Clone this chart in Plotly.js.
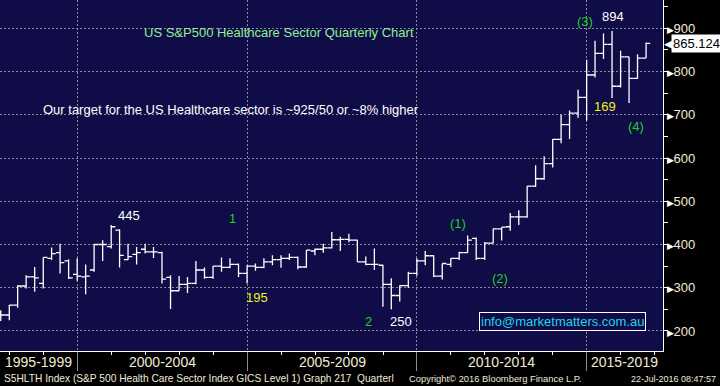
<!DOCTYPE html>
<html>
<head>
<meta charset="utf-8">
<script src="https://cdn.plot.ly/plotly-3.0.1.min.js"></script>
<style>
html,body{margin:0;padding:0;background:#000;}
#chart{width:720px;height:386px;}
</style>
</head>
<body>
<div id="chart"></div>
<script>
// Quarter-end dates (Q3 1997 .. Q3 2016)
const quarters = [
 "1997-09-30","1997-12-31",
 "1998-03-31","1998-06-30","1998-09-30","1998-12-31",
 "1999-03-31","1999-06-30","1999-09-30","1999-12-31",
 "2000-03-31","2000-06-30","2000-09-30","2000-12-31",
 "2001-03-31","2001-06-30","2001-09-30","2001-12-31",
 "2002-03-31","2002-06-30","2002-09-30","2002-12-31",
 "2003-03-31","2003-06-30","2003-09-30","2003-12-31",
 "2004-03-31","2004-06-30","2004-09-30","2004-12-31",
 "2005-03-31","2005-06-30","2005-09-30","2005-12-31",
 "2006-03-31","2006-06-30","2006-09-30","2006-12-31",
 "2007-03-31","2007-06-30","2007-09-30","2007-12-31",
 "2008-03-31","2008-06-30","2008-09-30","2008-12-31",
 "2009-03-31","2009-06-30","2009-09-30","2009-12-31",
 "2010-03-31","2010-06-30","2010-09-30","2010-12-31",
 "2011-03-31","2011-06-30","2011-09-30","2011-12-31",
 "2012-03-31","2012-06-30","2012-09-30","2012-12-31",
 "2013-03-31","2013-06-30","2013-09-30","2013-12-31",
 "2014-03-31","2014-06-30","2014-09-30","2014-12-31",
 "2015-03-31","2015-06-30","2015-09-30","2015-12-31",
 "2016-03-31","2016-06-30","2016-09-30"
];
const openVals = [
 237,237,
 260,304,325,310,
 368,381,362,331,
 325,341,400,395,
 433,365,377,389,
 383,381,324,293,
 308,310,341,324,
 350,347,354,333,
 350,347,360,365,
 368,370,348,385,
 389,392,411,412,
 410,360,354,352,
 308,282,305,333,
 362,374,327,354,
 368,381,414,368,
 403,436,441,464,
 464,535,552,587,
 643,677,704,740,
 792,842,863,766,
 834,784,831
];
const highVals = [
 248,260,
 306,329,348,370,
 393,402,366,368,
 354,400,410,445,
 435,402,394,402,
 394,383,329,327,
 325,362,347,350,
 370,368,356,352,
 356,368,375,375,
 379,372,387,391,
 402,429,418,425,
 411,372,391,353,
 322,306,337,368,
 385,375,356,368,
 383,421,416,406,
 437,440,473,479,
 535,583,604,644,
 700,710,758,827,
 871,888,894,848,
 834,840,867
];
const lowVals = [
 223,225,
 254,298,291,298,
 364,333,320,316,
 285,337,362,391,
 347,364,354,379,
 369,310,251,293,
 288,308,321,321,
 337,345,325,310,
 339,345,352,346,
 364,343,346,375,
 381,391,385,405,
 360,352,341,256,
 250,268,300,328,
 352,325,319,348,
 364,381,364,364,
 403,409,432,445,
 462,533,550,578,
 634,644,693,687,
 786,829,739,763,
 727,783,831
];
const closeVals = [
 237,260,
 304,325,323,370,
 379,358,323,327,
 327,400,400,441,
 375,372,381,383,
 383,320,293,308,
 310,341,324,350,
 347,354,333,350,
 347,360,365,368,
 370,348,387,389,
 392,411,412,410,
 360,354,354,308,
 282,305,333,362,
 374,327,356,368,
 381,410,368,403,
 436,440,464,464,
 535,552,587,643,
 677,704,740,792,
 842,863,766,834,
 784,831,865.124
];
const yTicks = [200,300,400,500,600,700,800,900];
const eraLabels = ["1995-1999","2000-2004","2005-2009","2010-2014","2015-2019"];
const eraBounds = ["2000-01-01","2005-01-01","2010-01-01","2015-01-01"];
const xRange = ["1997-09-22","2017-03-31"];
const yRange = [153.7, 965.4];

const W = 663, H = 351; // plot area in px
const px = x => x / W;
const py = y => 1 - y / H;
const mid = (a,b) => new Date((Date.parse(a)+Date.parse(b))/2).toISOString().slice(0,10);

const lastClose = closeVals[closeVals.length-1];

const trace = {
  type: 'ohlc',
  x: quarters,
  open: openVals, high: highVals, low: lowVals, close: closeVals,
  increasing: {line: {color: '#ffffff', width: 1.3}},
  decreasing: {line: {color: '#ffffff', width: 1.3}},
  tickwidth: 0.5,
  hoverinfo: 'skip',
  showlegend: false
};

const FONT = 'Liberation Sans, Arial, sans-serif';
const labelColor = '#f2ead6';
const green = '#1ed21e';
const yellow = '#f2f21e';

const bounds = [xRange[0]].concat(eraBounds, [xRange[1]]);
const eraAnn = eraLabels.map((t,i) => ({
  text: t, xref: 'x', yref: 'paper', x: mid(bounds[i], bounds[i+1]), y: py(362),
  xanchor: 'center', yanchor: 'middle', showarrow: false,
  font: {family: FONT, size: 14, color: labelColor}
}));

function txt(t, x, y, color, size, extra) {
  return Object.assign({text: t, xref: 'paper', yref: 'paper', x: px(x), y: py(y),
    xanchor: 'center', yanchor: 'middle', showarrow: false,
    font: {family: FONT, size: size || 13, color: color}}, extra || {});
}

const annotations = eraAnn.concat([
  txt('US S&P500 Healthcare Sector Quarterly Chart', 278.5, 32, '#8fef8f', 13),
  txt('Our target for the US Healthcare sector is ~925/50 or ~8% higher', 231, 109.5, '#ffffff', 13),
  txt('445', 129, 215, '#ffffff', 13),
  txt('1', 232.5, 218.5, green, 13),
  txt('195', 257, 297, yellow, 13),
  txt('2', 368.5, 321, green, 13),
  txt('250', 400.5, 321, '#ffffff', 13),
  txt('(1)', 457.5, 223, green, 13),
  txt('(2)', 500, 278.5, green, 13),
  txt('(3)', 584.5, 22, green, 13),
  txt('894', 613, 16, '#ffffff', 13),
  txt('169', 605, 106, yellow, 13),
  txt('(4)', 635.5, 126, green, 13),
  txt('info@marketmatters.com.au', 562.5, 321.5, '#22d4e6', 13,
      {bordercolor: '#ffffff', borderwidth: 1, borderpad: 1, bgcolor: '#0f0c47'}),
  // last price tag
  {text: '◀', xref: 'paper', yref: 'y', x: 1, y: lastClose, xanchor: 'left', yanchor: 'middle',
   xshift: -1, showarrow: false, font: {family: 'DejaVu Sans', size: 13, color: '#ffffff'}},
  {text: String(lastClose), xref: 'paper', yref: 'y', x: 1, y: lastClose, xanchor: 'left', yanchor: 'middle',
   xshift: 8, showarrow: false, bgcolor: '#ffffff', borderpad: 1,
   font: {family: FONT, size: 13, color: '#000000'}},
  // footer
  {text: 'S5HLTH Index (S&P 500 Health Care Sector Index GICS Level 1) Graph 217  Quarterl',
   xref: 'paper', yref: 'paper', x: px(2), y: py(378.5), xanchor: 'left', yanchor: 'middle', showarrow: false,
   font: {family: FONT, size: 10.2, color: labelColor}},
  {text: 'Copyright© 2016 Bloomberg Finance L.P.',
   xref: 'paper', yref: 'paper', x: px(407), y: py(378.5), xanchor: 'left', yanchor: 'middle', showarrow: false,
   font: {family: FONT, size: 9.4, color: labelColor}},
  {text: '22-Jul-2016 08:47:57',
   xref: 'paper', yref: 'paper', x: px(718), y: py(378.5), xanchor: 'right', yanchor: 'middle', showarrow: false,
   font: {family: FONT, size: 9, color: labelColor}}
]);

const layout = {
  width: 720, height: 386,
  margin: {l: 0, r: 57, t: 0, b: 35, pad: 0},
  paper_bgcolor: '#000000',
  plot_bgcolor: '#0f0c47',
  showlegend: false,
  dragmode: false,
  xaxis: {
    type: 'date', range: xRange, fixedrange: true,
    rangeslider: {visible: false},
    tickmode: 'array', tickvals: eraBounds, ticktext: eraBounds.map(() => ''),
    ticks: 'outside', ticklen: 19, tickcolor: '#8a8a96', tickwidth: 1,
    showgrid: true, gridcolor: '#8a8a96', gridwidth: 1, griddash: '2px,2px',
    showline: true, linecolor: '#ffffff', linewidth: 1, zeroline: false,
    minor: {dtick: 'M12', tick0: '1998-01-01', ticks: 'outside', ticklen: 3, tickcolor: '#ffffff', tickwidth: 1, showgrid: false}
  },
  yaxis: {
    side: 'right', range: yRange, fixedrange: true,
    tickmode: 'array', tickvals: yTicks,
    ticktext: yTicks.map(v => '<span style="font-size:9px;color:#ffffff">▶</span>' + v),
    ticks: '', tickfont: {family: FONT, size: 13, color: labelColor},
    showgrid: true, gridcolor: '#8a8a96', gridwidth: 1, griddash: '2px,2px',
    showline: true, linecolor: '#ffffff', linewidth: 1, zeroline: false,
    minor: {dtick: 50, tick0: 150, ticks: 'outside', ticklen: 4, tickcolor: '#ffffff', tickwidth: 1, showgrid: false}
  },
  annotations: annotations
};

Plotly.newPlot('chart', [trace], layout, {displayModeBar: false, staticPlot: true});
</script>
</body>
</html>
